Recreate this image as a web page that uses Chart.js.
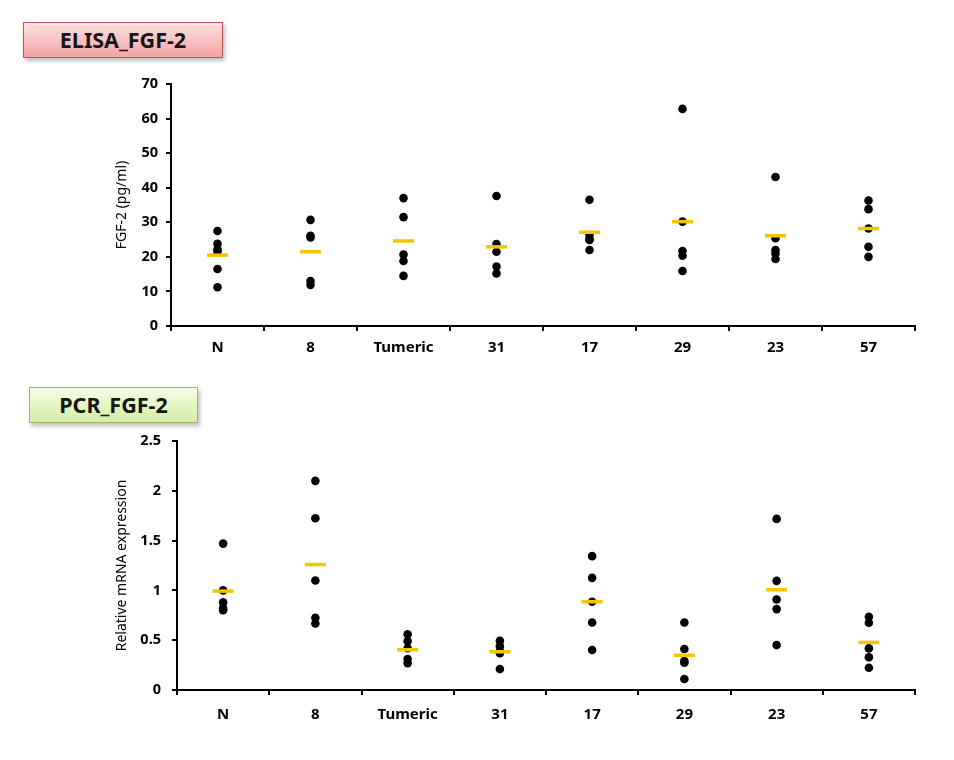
<!DOCTYPE html>
<html>
<head>
<meta charset="utf-8">
<script src="https://cdn.jsdelivr.net/npm/chart.js@4"></script>
<style>
    body { margin: 0; background: #fff; width: 954px; height: 760px; position: relative; overflow: hidden; font-family: "Noto Sans", sans-serif; }
    .tag { position: absolute; box-sizing: border-box; text-align: center; font-weight: bold; color: #161616; box-shadow: 2px 3px 4px rgba(0,0,0,0.25); }
    #elisa-tag { left: 23px; top: 22px; width: 200px; height: 36px; line-height: 34px; font-size: 21.5px;
        background: linear-gradient(#fde2e2, #f3a3a3); border: 1px solid #c0504d; }
    #pcr-tag { left: 29px; top: 387px; width: 169px; height: 36px; line-height: 34px; font-size: 21.5px;
        background: linear-gradient(#f6fde6, #d3eea4); border: 1px solid #9bbb59; }
    .box { position: absolute; left: 0; width: 954px; }
</style>
</head>
<body>
<div class="tag" id="elisa-tag">ELISA_FGF-2</div>
<div class="tag" id="pcr-tag">PCR_FGF-2</div>
<div class="box" style="top:0;height:370px"><canvas id="elisa-chart"></canvas></div>
<div class="box" style="top:370px;height:390px"><canvas id="pcr-chart"></canvas></div>
<script>
const groups = ['N', '8', 'Tumeric', '31', '17', '29', '23', '57'];

// FGF-2 ELISA (pg/ml), one list per group
const elisaValues = [
    [27.5, 23.8, 22.2, 21.5, 16.5, 11.2],
    [30.7, 26.1, 25.6, 13.0, 11.9],
    [37.0, 31.5, 20.7, 18.8, 14.5],
    [37.6, 23.7, 21.5, 17.2, 15.2],
    [36.5, 26.3, 25.2, 24.9, 22.0],
    [62.8, 30.2, 21.7, 20.3, 15.9],
    [43.1, 25.4, 22.0, 21.0, 19.4],
    [36.3, 33.8, 28.2, 22.9, 20.0]
];
const elisaMeans = [20.5, 21.5, 24.6, 22.9, 27.1, 30.2, 26.1, 28.2];

// relative mRNA expression
const pcrValues = [
    [1.47, 1.0, 0.88, 0.82, 0.80],
    [2.10, 1.725, 1.10, 0.725, 0.668],
    [0.56, 0.49, 0.42, 0.31, 0.27],
    [0.495, 0.44, 0.39, 0.37, 0.21],
    [1.344, 1.126, 0.886, 0.678, 0.401],
    [0.678, 0.411, 0.29, 0.274, 0.11],
    [1.718, 1.096, 0.909, 0.812, 0.451],
    [0.735, 0.675, 0.418, 0.328, 0.224]
];
const pcrMeans = [0.993, 1.26, 0.404, 0.384, 0.886, 0.348, 1.006, 0.478];

const toPoints = (values) => groups.flatMap((g, i) => values[i].map(v => ({ x: g, y: v })));

const buildChart = (canvasId, values, means, yCfg) => {
    const ctx = document.getElementById(canvasId).getContext('2d');
    return new Chart(ctx, {
        type: 'line',
        data: {
            labels: groups,
            datasets: [
                {
                    data: toPoints(values),
                    showLine: false,
                    pointRadius: 4.3,
                    pointBackgroundColor: '#000',
                    pointBorderColor: '#000',
                    pointBorderWidth: 0,
                    order: 2
                },
                {
                    data: groups.map((g, i) => ({ x: g, y: means[i] })),
                    showLine: false,
                    pointStyle: 'line',
                    pointRadius: 10.5,
                    pointBorderColor: '#f7c400',
                    pointBorderWidth: 3.5,
                    order: 1
                }
            ]
        },
        options: {
            responsive: true,
            maintainAspectRatio: false,
            animation: false,
            events: [],
            layout: { padding: yCfg.padding },
            plugins: { legend: { display: false }, tooltip: { enabled: false } },
            scales: {
                x: {
                    offset: true,
                    afterFit: s => { s.height = 30; },
                    grid: { offset: true, drawOnChartArea: false, drawTicks: true, tickLength: 5, color: '#000', lineWidth: 2 },
                    border: { display: true, color: '#000', width: 2 },
                    ticks: { color: '#000', padding: yCfg.xPad, font: { family: 'Noto Sans', size: 15, weight: 'bold' } }
                },
                y: {
                    min: 0,
                    max: yCfg.max,
                    afterFit: s => { s.width = yCfg.axisWidth; },
                    grid: { drawOnChartArea: false, drawTicks: true, tickLength: 5, color: '#000', lineWidth: 2 },
                    border: { display: true, color: '#000', width: 2 },
                    ticks: {
                        stepSize: yCfg.step, color: '#000', padding: yCfg.yPad,
                        callback: v => String(v),
                        font: { family: 'Noto Sans', size: 14.5, weight: 'bold' }
                    },
                    title: { display: true, text: yCfg.title, color: '#000', padding: { top: 14, bottom: 0 }, font: { family: 'Noto Sans', size: 14 } }
                }
            }
        }
    });
};

buildChart('elisa-chart', elisaValues, elisaMeans, {
    max: 70, step: 10, title: 'FGF-2 (pg/ml)', axisWidth: 71, xPad: 8, yPad: 8,
    padding: { left: 100, right: 39, top: 84, bottom: 14 }
});
buildChart('pcr-chart', pcrValues, pcrMeans, {
    max: 2.5, step: 0.5, title: 'Relative mRNA expression', axisWidth: 77, xPad: 11, yPad: 11,
    padding: { left: 100, right: 39, top: 71, bottom: 40 }
});
</script>
</body>
</html>
